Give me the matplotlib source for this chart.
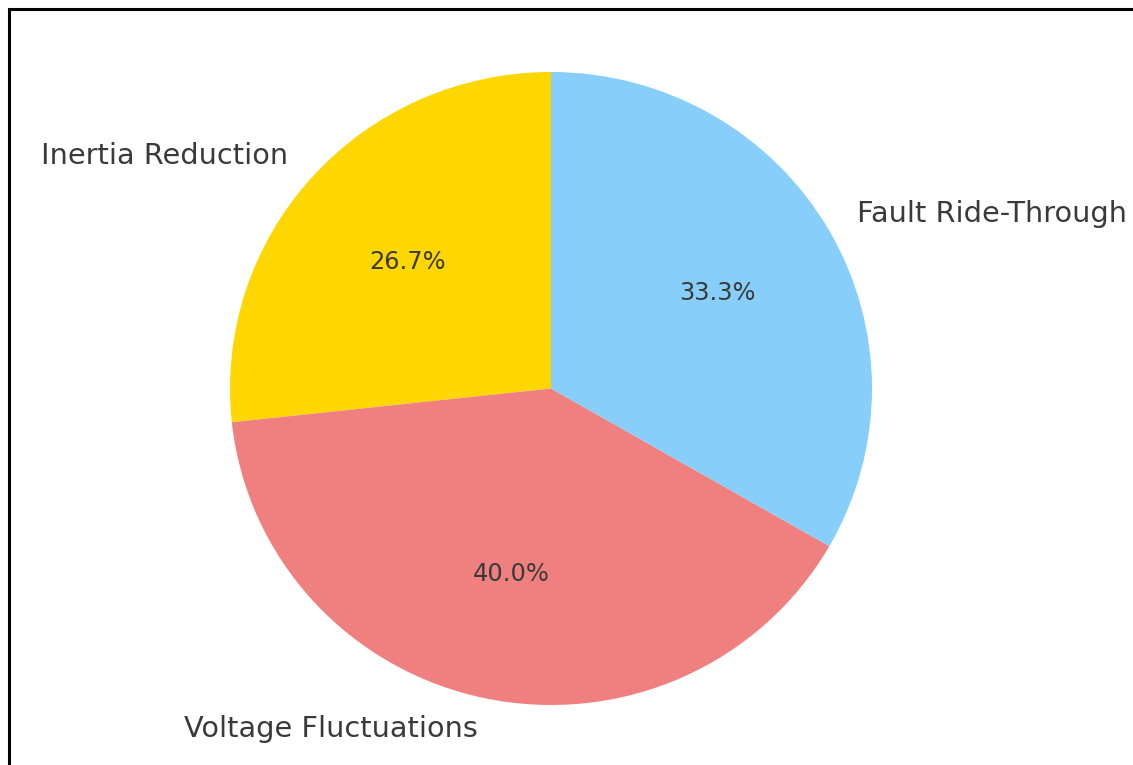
import matplotlib.pyplot as plt
from matplotlib.patches import Rectangle

# share of grid issues
labels = ['Inertia Reduction', 'Voltage Fluctuations', 'Fault Ride-Through']
sizes = [26.7, 40.0, 33.3]
colors = ['gold', 'lightcoral', 'lightskyblue']

W, H = 1133, 765
fig = plt.figure(figsize=(W / 100, H / 100), dpi=100)

# pie centre at (551, 388.5) px, radii ~321 x 316.5 px (screenshot slightly squashed)
cx, cy, rx, ry = 551, H - 388.5, 321, 316.5
hx, hy = 1.25 * rx, 1.25 * ry
ax = fig.add_axes([(cx - hx) / W, (cy - hy) / H, 2 * hx / W, 2 * hy / H])
ax.pie(sizes, labels=labels, colors=colors, autopct='%1.1f%%', startangle=90,
       textprops={'color': '#3a3a3a'})
ax.set_xlim(-1.25, 1.25)
ax.set_ylim(-1.25, 1.25)
ax.set_aspect('auto')
for t in ax.texts:
    t.set_fontsize(17.4 if t.get_text().endswith('%') else 20.7)

# screenshot frame (left and top edges visible)
fig.patches.append(Rectangle((8.5 / W, -0.1), 1.2, 1.1 - 9.5 / H,
                             transform=fig.transFigure, fill=False,
                             edgecolor='black', linewidth=2.2))

fig.savefig('out.png', dpi=100)
